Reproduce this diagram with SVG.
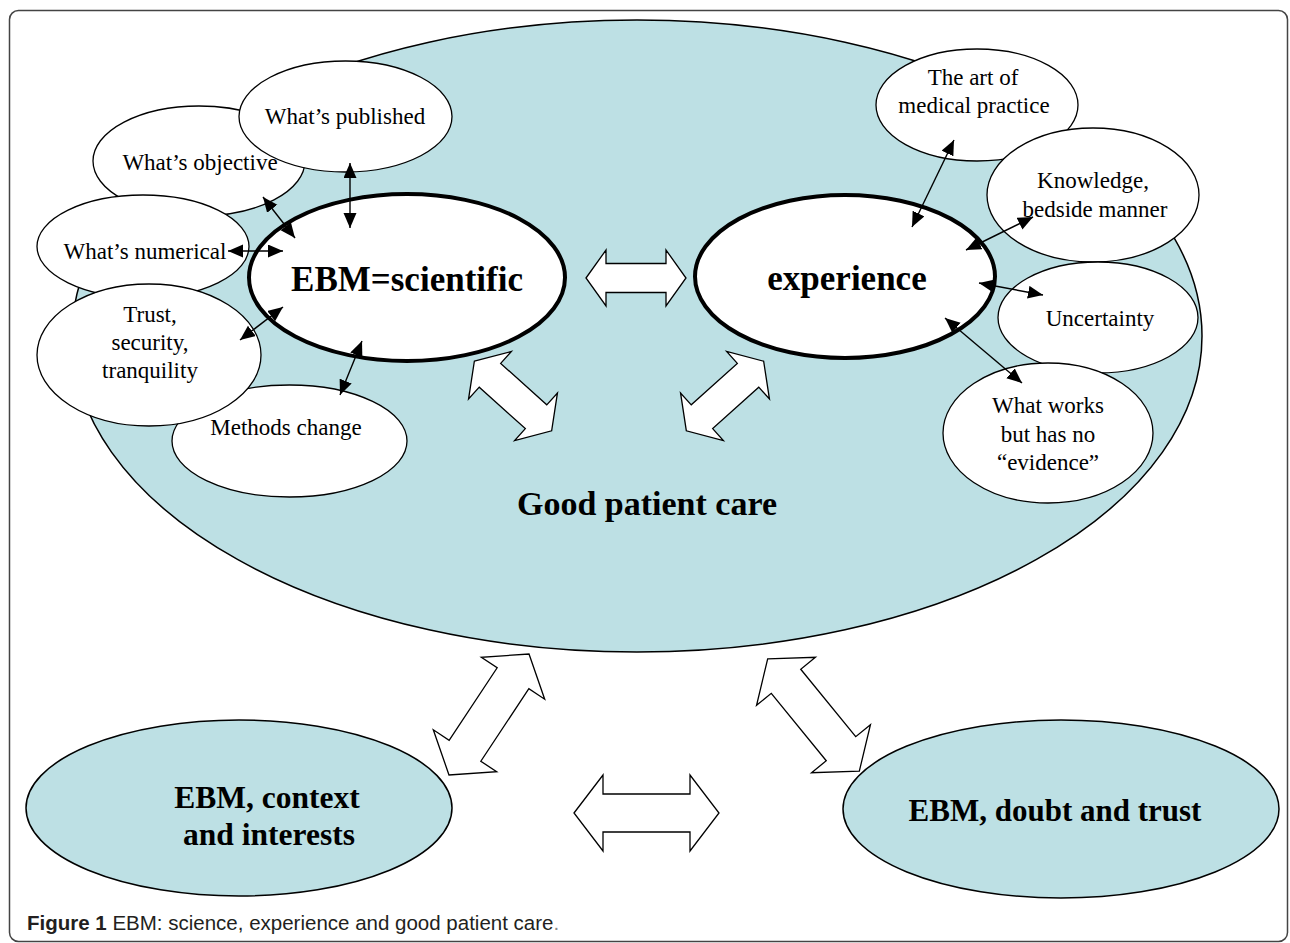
<svg xmlns="http://www.w3.org/2000/svg" width="1290" height="943" viewBox="0 0 1290 943">
<style>
.frame{fill:#fff;stroke:#444;stroke-width:1.5}
.big{fill:#bde0e4;stroke:#000;stroke-width:1.5}
.small{fill:#fff;stroke:#000;stroke-width:1.3}
.thick{fill:#fff;stroke:#000;stroke-width:4}
.blk{fill:#fff;stroke:#000;stroke-width:1.3;stroke-linejoin:miter}
.con{stroke:#000;stroke-width:1.4;fill:none;marker-start:url(#ah);marker-end:url(#ah)}
.t{font-family:"Liberation Serif","Times New Roman",serif;font-size:23px;fill:#000;text-anchor:middle}
.tb{font-family:"Liberation Serif","Times New Roman",serif;font-weight:bold;fill:#000;text-anchor:middle}
.cap{font-family:"Liberation Sans",Arial,sans-serif;font-size:20.5px;fill:#231f20}
</style>
<defs>
<marker id="ah" markerUnits="userSpaceOnUse" markerWidth="16" markerHeight="14" refX="15" refY="6.5" orient="auto-start-reverse">
<path d="M0,0 L15,6.5 L0,13 z" fill="#000"/>
</marker>
</defs>
<rect class="frame" x="9.5" y="10.5" width="1278" height="931" rx="9"/>
<g id="good-patient-care">
<ellipse class="big" cx="637" cy="336" rx="565" ry="316"/>
<text class="tb" x="647" y="515" font-size="34">Good patient care</text>
</g>
<g id="ebm-context">
<ellipse class="big" cx="239" cy="808" rx="213" ry="88"/>
<text class="tb" x="267" y="808" font-size="31.5">EBM, context</text>
<text class="tb" x="269" y="845" font-size="31.5">and interests</text>
</g>
<g id="ebm-doubt">
<ellipse class="big" cx="1061" cy="809" rx="218" ry="89"/>
<text class="tb" x="1055" y="821" font-size="31">EBM, doubt and trust</text>
</g>
<g id="methods-change">
<ellipse class="small" cx="289.5" cy="441" rx="117.5" ry="56"/>
<text class="t" x="286" y="435">Methods change</text>
</g>
<g id="whats-objective">
<ellipse class="small" cx="199" cy="161" rx="106" ry="55"/>
<text class="t" x="200" y="170">What’s objective</text>
</g>
<g id="whats-numerical">
<ellipse class="small" cx="143" cy="246.5" rx="106" ry="51.5"/>
<text class="t" x="145" y="259">What’s numerical</text>
</g>
<g id="trust">
<ellipse class="small" cx="149" cy="355" rx="112" ry="71"/>
<text class="t" x="150" y="322">Trust,</text>
<text class="t" x="150" y="350">security,</text>
<text class="t" x="150" y="378">tranquility</text>
</g>
<g id="whats-published">
<ellipse class="small" cx="345.5" cy="116.5" rx="106.5" ry="55.5"/>
<text class="t" x="345" y="124">What’s published</text>
</g>
<g id="art">
<ellipse class="small" cx="977" cy="105" rx="101" ry="56"/>
<text class="t" x="973" y="85">The art of</text>
<text class="t" x="974" y="113">medical practice</text>
</g>
<g id="knowledge">
<ellipse class="small" cx="1093" cy="195" rx="106" ry="67"/>
<text class="t" x="1093" y="188">Knowledge,</text>
<text class="t" x="1095" y="217">bedside manner</text>
</g>
<g id="uncertainty">
<ellipse class="small" cx="1098" cy="317.5" rx="100" ry="55.5"/>
<text class="t" x="1100" y="326">Uncertainty</text>
</g>
<g id="what-works">
<ellipse class="small" cx="1048" cy="433" rx="105" ry="70"/>
<text class="t" x="1048" y="413">What works</text>
<text class="t" x="1048" y="442">but has no</text>
<text class="t" x="1048" y="470">“evidence”</text>
</g>
<g id="ebm-scientific">
<ellipse class="thick" cx="407" cy="277.5" rx="158" ry="83.5"/>
<text class="tb" x="407" y="291" font-size="35">EBM=scientific</text>
</g>
<g id="experience">
<ellipse class="thick" cx="845" cy="276.5" rx="150" ry="81.5"/>
<text class="tb" x="847" y="290" font-size="35">experience</text>
</g>
<g id="connectors">
<line class="con" x1="350" y1="163" x2="350" y2="228"/>
<line class="con" x1="263" y1="197" x2="295" y2="238"/>
<line class="con" x1="228" y1="251" x2="283" y2="251"/>
<line class="con" x1="240" y1="340" x2="283" y2="307"/>
<line class="con" x1="362" y1="341" x2="340" y2="395"/>
<line class="con" x1="954" y1="140" x2="912" y2="227"/>
<line class="con" x1="1033" y1="217" x2="966" y2="250"/>
<line class="con" x1="979" y1="283" x2="1043" y2="295"/>
<line class="con" x1="945" y1="318" x2="1022" y2="383"/>
<polygon class="blk" transform="translate(636,278)" points="-50,0 -30,-28 -30,-14.5 30,-14.5 30,-28 50,0 30,28 30,14.5 -30,14.5 -30,28"/>
<polygon class="blk" transform="translate(513,396) rotate(42)" points="-52,0 -31,-32 -31,-16 31,-16 31,-32 52,0 31,32 31,16 -31,16 -31,32"/>
<polygon class="blk" transform="translate(725,396) rotate(-42)" points="-52,0 -31,-32 -31,-16 31,-16 31,-32 52,0 31,32 31,16 -31,16 -31,32"/>
<polygon class="blk" transform="translate(646.5,813)" points="-72.5,0 -43.5,-38 -43.5,-19 43.5,-19 43.5,-38 72.5,0 43.5,38 43.5,19 -43.5,19 -43.5,38"/>
<polygon class="blk" transform="translate(489,714.5) rotate(-56.5)" points="-72.5,0 -43.5,-38 -43.5,-19 43.5,-19 43.5,-38 72.5,0 43.5,38 43.5,19 -43.5,19 -43.5,38"/>
<polygon class="blk" transform="translate(813.5,715) rotate(50.8)" points="-72.5,0 -43.5,-38 -43.5,-19 43.5,-19 43.5,-38 72.5,0 43.5,38 43.5,19 -43.5,19 -43.5,38"/>
</g>
<text class="cap" x="27" y="930"><tspan font-weight="bold">Figure 1</tspan> EBM: science, experience and good patient care<tspan fill="#888">.</tspan></text>
</svg>
